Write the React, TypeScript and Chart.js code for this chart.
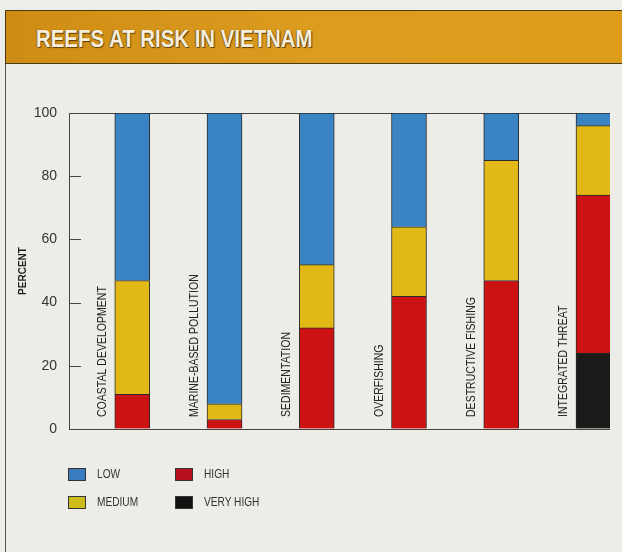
import React, { useEffect, useRef } from "react";
import { Chart, registerables } from "chart.js";

Chart.register(...registerables);

const categories = [
  "COASTAL DEVELOPMENT",
  "MARINE-BASED POLLUTION",
  "SEDIMENTATION",
  "OVERFISHING",
  "DESTRUCTIVE FISHING",
  "INTEGRATED THREAT",
];
const veryHigh = [0, 0, 0, 0, 0, 24];
const high = [11, 3, 32, 42, 47, 50];
const medium = [36, 5, 20, 22, 38, 22];
const low = [53, 92, 48, 36, 15, 4];
const yTicks = [0, 20, 40, 60, 80, 100];

const seriesNames = ["VERY HIGH", "HIGH", "MEDIUM", "LOW"];
const seriesColors = ["#1c1a18", "#cc1212", "#e2b816", "#3b84c4"];

const FONT = "'Liberation Sans', Arial, sans-serif";

const innerTicksAndLabels = {
  id: "innerTicksAndLabels",
  afterDatasetsDraw(chart: any) {
    const { ctx, chartArea, scales } = chart;
    const y = scales.y;
    const x = scales.x;
    ctx.save();
    ctx.strokeStyle = "#444";
    ctx.lineWidth = 1;
    y.ticks.forEach((t: any) => {
      if (t.value === 0 || t.value === 100) return;
      const py = Math.round(y.getPixelForValue(t.value)) + 0.5;
      ctx.beginPath();
      ctx.moveTo(chartArea.left, py);
      ctx.lineTo(chartArea.left + 12, py);
      ctx.stroke();
    });
    ctx.fillStyle = "#222";
    ctx.font = `13px ${FONT}`;
    ctx.textAlign = "left";
    ctx.textBaseline = "middle";
    categories.forEach((c, i) => {
      const px = x.getPixelForValue(i) - 30;
      const py = y.getPixelForValue(0) - 12;
      ctx.save();
      ctx.translate(px, py);
      ctx.rotate(-Math.PI / 2);
      ctx.scale(0.81, 1);
      ctx.fillText(c, 0, 0);
      ctx.restore();
    });
    ctx.restore();
  },
};

export default function App() {
  const ref = useRef<HTMLCanvasElement>(null);
  useEffect(() => {
    const series = [veryHigh, high, medium, low];
    const chart = new Chart(ref.current!, {
      type: "bar",
      data: {
        datasets: series.map((vals, si) => ({
          label: seriesNames[si],
          data: vals.map((v, i) => ({ x: i, y: v === 0 ? null : v })),
          backgroundColor: seriesColors[si],
          borderColor: "#2a2a2a",
          borderWidth: 1,
          barThickness: 35,
        })),
      },
      options: {
        animation: false,
        responsive: false,
        layout: { padding: { left: 8, right: 12, top: 113, bottom: 123 } },
        plugins: { legend: { display: false }, tooltip: { enabled: false } },
        scales: {
          x: {
            type: "linear",
            stacked: true,
            display: false,
            offset: false,
            grid: { offset: false },
            min: -0.686,
            max: 5.179,
          },
          y: {
            stacked: true,
            min: 0,
            max: 100,
            afterFit: (s: any) => {
              s.width = 61;
            },
            afterBuildTicks: (s: any) => {
              s.ticks = yTicks.map((v) => ({ value: v }));
            },
            ticks: {
              padding: 12,
              color: "#333",
              font: { family: FONT, size: 14 },
            },
            grid: {
              drawTicks: false,
              color: (c: any) =>
                c.tick && (c.tick.value === 0 || c.tick.value === 100) ? "#444" : "rgba(0,0,0,0)",
            },
            border: { display: true, color: "#444" },
            title: {
              display: true,
              text: "PERCENT",
              color: "#222",
              font: { family: FONT, size: 10, weight: "bold" },
              padding: { top: 9, bottom: 4 },
            },
          },
        },
      },
      plugins: [innerTicksAndLabels],
    });
    return () => chart.destroy();
  }, []);

  const legendItems = [
    { name: "LOW", color: "#3a7cc0", left: 68, top: 468 },
    { name: "MEDIUM", color: "#cdbb1c", left: 68, top: 496 },
    { name: "HIGH", color: "#b8101e", left: 175, top: 468 },
    { name: "VERY HIGH", color: "#141210", left: 175, top: 496 },
  ];

  return (
    <div
      style={{
        position: "fixed",
        left: 0,
        top: 0,
        width: 622,
        height: 552,
        background: "#eeeee9",
        overflow: "hidden",
        fontFamily: FONT,
      }}
    >
      <div
        style={{
          position: "absolute",
          left: 5,
          top: 11,
          width: 617,
          height: 541,
          background: "#ededе8".replace("е", "e"),
          borderLeft: "1px solid #555",
        }}
      />
      <div
        style={{
          position: "absolute",
          left: 5,
          top: 10,
          width: 617,
          height: 52,
          background: "linear-gradient(90deg, #cf8c14 0%, #dc9c20 50%, #df9d1c 100%)",
          borderTop: "1px solid #4a3a12",
          borderBottom: "1px solid #4a3a12",
          borderLeft: "1px solid #4a3a12",
        }}
      >
        <div
          style={{
            position: "absolute",
            left: 30,
            top: 15,
            fontSize: 24,
            fontWeight: "bold",
            color: "#f6eedb",
            lineHeight: "26px",
            whiteSpace: "nowrap",
            transform: "scaleX(0.85)",
            transformOrigin: "left center",
            textShadow: "1px 1px 1px #5a3e08, -1px 0 1px #8a6010",
          }}
        >
          REEFS AT RISK IN VIETNAM
        </div>
      </div>
      <canvas
        ref={ref}
        width={622}
        height={552}
        style={{ position: "absolute", left: 0, top: 0, width: 622, height: 552 }}
      />
      {legendItems.map((it) => (
        <React.Fragment key={it.name}>
          <div
            style={{
              position: "absolute",
              left: it.left,
              top: it.top,
              width: 16,
              height: 11,
              background: it.color,
              border: "1px solid #333",
            }}
          />
          <div
            style={{
              position: "absolute",
              left: it.left + 29,
              top: it.top - 2,
              fontSize: 13,
              lineHeight: "16px",
              color: "#333",
              whiteSpace: "nowrap",
              transform: "scaleX(0.78)",
              transformOrigin: "left center",
            }}
          >
            {it.name}
          </div>
        </React.Fragment>
      ))}
    </div>
  );
}
